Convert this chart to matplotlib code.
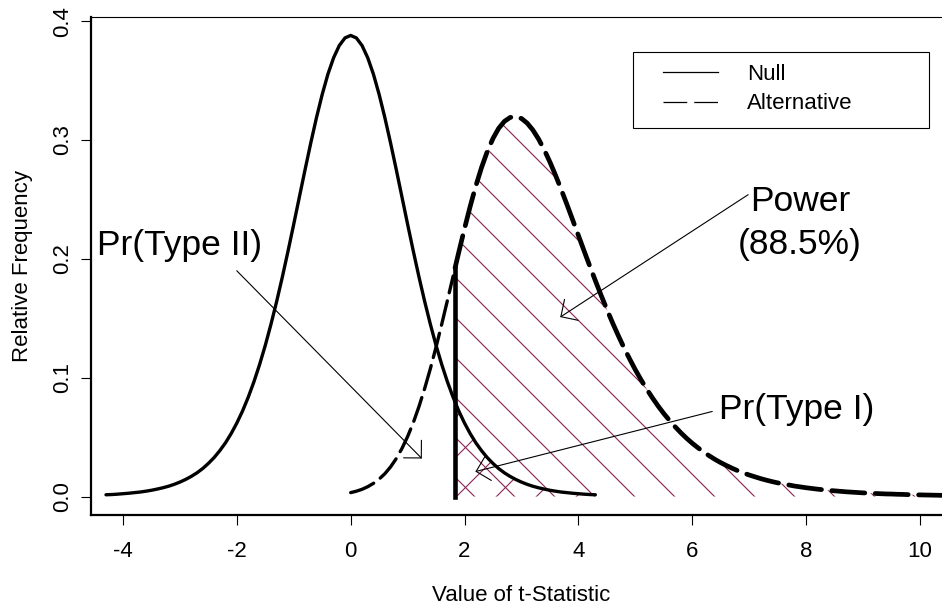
import numpy as np
import matplotlib
matplotlib.use("Agg")
import matplotlib.pyplot as plt
from matplotlib.patches import Polygon, Rectangle
from matplotlib.collections import LineCollection
from matplotlib.transforms import IdentityTransform
from matplotlib.lines import Line2D

plt.rcParams["font.family"] = ["Liberation Sans", "DejaVu Sans"]
plt.rcParams["axes.unicode_minus"] = False

# t-statistic with 9 degrees of freedom, one-sided test at alpha = 0.05
T_CRIT = 1.8331
NULL_LO, NULL_HI = -4.2968, 4.2968
NULL_AT_CRIT = 0.0794
ALT_LO, ALT_STEP = 0.0, 0.1
ALT_AT_CRIT = 0.1924

# central t density (null), 87 evenly spaced points over [NULL_LO, NULL_HI]
null_density = [0.0015, 0.0017, 0.0020, 0.0024, 0.0028, 0.0033, 0.0038, 0.0045, 0.0053, 0.0063,
                0.0074, 0.0087, 0.0103, 0.0122, 0.0144, 0.0170, 0.0200, 0.0236, 0.0279, 0.0328,
                0.0386, 0.0452, 0.0530, 0.0619, 0.0720, 0.0836, 0.0966, 0.1112, 0.1273, 0.1451,
                0.1643, 0.1849, 0.2067, 0.2293, 0.2524, 0.2754, 0.2978, 0.3190, 0.3384, 0.3554,
                0.3692, 0.3795, 0.3859, 0.3880, 0.3859, 0.3795, 0.3692, 0.3554, 0.3384, 0.3190,
                0.2978, 0.2754, 0.2524, 0.2293, 0.2067, 0.1849, 0.1643, 0.1451, 0.1273, 0.1112,
                0.0966, 0.0836, 0.0720, 0.0619, 0.0530, 0.0452, 0.0386, 0.0328, 0.0279, 0.0236,
                0.0200, 0.0170, 0.0144, 0.0122, 0.0103, 0.0087, 0.0074, 0.0063, 0.0053, 0.0045,
                0.0038, 0.0033, 0.0028, 0.0024, 0.0020, 0.0017, 0.0015]

# noncentral t density (alternative), sampled every 0.1 from 0.0
alt_density = [0.0033, 0.0045, 0.0061, 0.0083, 0.0111, 0.0147, 0.0192, 0.0249, 0.0319, 0.0404,
               0.0505, 0.0622, 0.0758, 0.0910, 0.1077, 0.1259, 0.1452, 0.1652, 0.1856, 0.2059,
               0.2256, 0.2444, 0.2617, 0.2771, 0.2905, 0.3014, 0.3099, 0.3157, 0.3190, 0.3197,
               0.3181, 0.3142, 0.3084, 0.3008, 0.2917, 0.2814, 0.2701, 0.2580, 0.2455, 0.2326,
               0.2196, 0.2066, 0.1938, 0.1813, 0.1691, 0.1574, 0.1461, 0.1354, 0.1252, 0.1157,
               0.1066, 0.0982, 0.0903, 0.0830, 0.0761, 0.0698, 0.0640, 0.0586, 0.0536, 0.0490,
               0.0448, 0.0410, 0.0374, 0.0342, 0.0312, 0.0285, 0.0261, 0.0238, 0.0217, 0.0198,
               0.0181, 0.0166, 0.0151, 0.0138, 0.0126, 0.0115, 0.0106, 0.0097, 0.0088, 0.0081,
               0.0074, 0.0068, 0.0062, 0.0057, 0.0052, 0.0048, 0.0044, 0.0040, 0.0037, 0.0034,
               0.0031, 0.0029, 0.0026, 0.0024, 0.0022, 0.0021, 0.0019, 0.0018, 0.0016, 0.0015,
               0.0014, 0.0013, 0.0012, 0.0011, 0.0010, 0.0009, 0.0009, 0.0008]

x_ticks = [-4, -2, 0, 2, 4, 6, 8, 10]
y_ticks = [0.0, 0.1, 0.2, 0.3, 0.4]
y_ticklabels = ["0.0", "0.1", "0.2", "0.3", "0.4"]
legend_labels = ["Null", "Alternative"]

x_null = np.linspace(NULL_LO, NULL_HI, len(null_density))
y_null = np.array(null_density)
x_alt = ALT_LO + ALT_STEP * np.arange(len(alt_density))
y_alt = np.array(alt_density)

HATCH = "#8B2252"
W, H = 942, 607

fig = plt.figure(figsize=(W / 100, H / 100), dpi=100)
ax = fig.add_axes([91 / W, (H - 515) / H, 861 / W, 498 / H])
ax.set_xlim(-4.56, 10.56)
ax.set_ylim(-0.01552, 0.40352)

# shaded regions: power (under the alternative) and type I error (under the null)
m_alt = x_alt > T_CRIT
alt_poly = np.vstack([[T_CRIT, 0], [T_CRIT, ALT_AT_CRIT],
                      np.column_stack([x_alt[m_alt], y_alt[m_alt]]),
                      [x_alt[m_alt][-1], 0]])
m_null = x_null > T_CRIT
null_poly = np.vstack([[T_CRIT, 0], [T_CRIT, NULL_AT_CRIT],
                       np.column_stack([x_null[m_null], y_null[m_null]]),
                       [x_null[m_null][-1], 0]])
alt_patch = Polygon(alt_poly, closed=True, facecolor="none", edgecolor="none")
null_patch = Polygon(null_poly, closed=True, facecolor="none", edgecolor="none")
ax.add_patch(alt_patch)
ax.add_patch(null_patch)


def hatch_lines(slope, offset, spacing):
    """Parallel lines in pixel space, y = slope * x + offset + k * spacing."""
    segs = []
    for k in range(-60, 60):
        c = offset + k * spacing
        segs.append([(-200, slope * -200 + c), (1200, slope * 1200 + c)])
    return segs


back = LineCollection(hatch_lines(-1, 585, 40), colors=HATCH, linewidths=0.8,
                      transform=IdentityTransform(), zorder=1)
back.set_clip_path(alt_patch)
ax.add_collection(back)
fwd = LineCollection(hatch_lines(1, -386, 40), colors=HATCH, linewidths=0.8,
                     transform=IdentityTransform(), zorder=1)
fwd.set_clip_path(null_patch)
ax.add_collection(fwd)

# density curves and the critical value
ax.plot(x_null, y_null, color="black", lw=2.4, solid_capstyle="round", zorder=3)
left = x_alt < T_CRIT + 0.05
ax.plot(x_alt[left], y_alt[left], color="black", lw=2.4,
        linestyle=(0, (7.5, 2.5)), dash_capstyle="round", zorder=3)
ax.plot(np.r_[T_CRIT, x_alt[m_alt]], np.r_[ALT_AT_CRIT, y_alt[m_alt]], color="black", lw=3.4,
        linestyle=(0, (7.0, 2.2)), dash_capstyle="round", zorder=3)
ax.plot([T_CRIT, T_CRIT], [0, ALT_AT_CRIT], color="black", lw=3.3, zorder=3)

# labelled arrows
arrow = dict(arrowstyle="->,head_length=0.9,head_width=0.9", lw=0.8, color="black",
             shrinkA=0, shrinkB=0, mutation_scale=10)
ax.annotate("", xy=(1.25, 0.032), xytext=(-2.0, 0.190), arrowprops=arrow, zorder=4)
ax.annotate("", xy=(3.68, 0.151), xytext=(6.98, 0.254), arrowprops=arrow, zorder=4)
ax.annotate("", xy=(2.19, 0.021), xytext=(6.35, 0.0716), arrowprops=arrow, zorder=4)

BIG = 25.5
ax.text(-3.0, 0.203, "Pr(Type II)", fontsize=BIG, ha="center", va="baseline")
ax.text(7.89, 0.240, "Power", fontsize=BIG, ha="center", va="baseline")
ax.text(7.89, 0.204, "(88.5%)", fontsize=BIG, ha="center", va="baseline")
ax.text(7.84, 0.065, "Pr(Type I)", fontsize=BIG, ha="center", va="baseline")

# axes
for side in ("left", "bottom"):
    ax.spines[side].set_linewidth(1.6)
ax.spines["top"].set_linewidth(0.8)
ax.spines["right"].set_linewidth(0.8)
ax.set_xticks(x_ticks)
ax.set_yticks(y_ticks)
ax.set_yticklabels(y_ticklabels, rotation=90, va="center")
ax.tick_params(direction="out", length=7, width=0.8, labelsize=16)
ax.tick_params(axis="x", pad=12)
ax.tick_params(axis="y", pad=6)
ax.set_xlabel("Value of t-Statistic", fontsize=16)
ax.set_ylabel("Relative Frequency", fontsize=16)
ax.xaxis.set_label_coords(0.5, -0.14)
ax.yaxis.set_label_coords(-0.0674, 0.5)

# legend with a plain rectangular frame
LEG_FS = 16
em = LEG_FS * 100 / 72
handles = [Line2D([], [], color="black", lw=0.9),
           Line2D([], [], color="black", lw=0.9, linestyle=(0, (19, 5.6)))]
ax.legend(handles, legend_labels, loc="upper left", frameon=False,
          bbox_to_anchor=(663 / W, 1 - 64 / H), bbox_transform=fig.transFigure,
          borderpad=0, borderaxespad=0, handlelength=55 / em, handletextpad=29 / em,
          labelspacing=0.38, fontsize=LEG_FS)
fig.add_artist(Rectangle((633 / W, 1 - 128 / H), 296 / W, 76 / H, transform=fig.transFigure,
                         facecolor="none", edgecolor="black", lw=0.8))

fig.savefig("out.png", dpi=100)
